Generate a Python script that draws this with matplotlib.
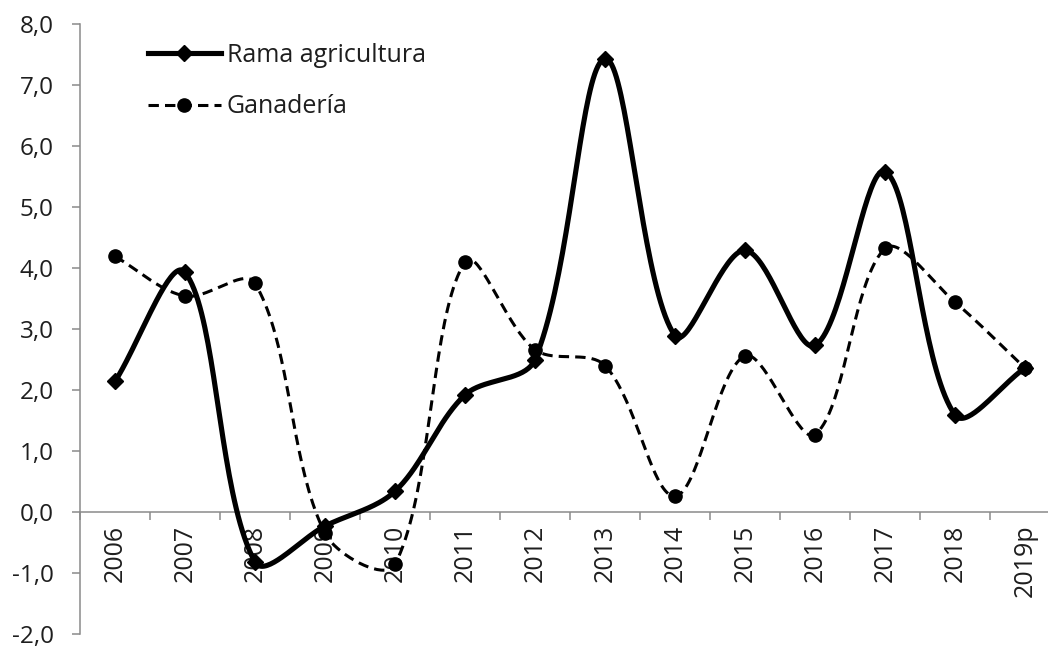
import numpy as np
import matplotlib
matplotlib.use("Agg")
import matplotlib.pyplot as plt
from matplotlib.lines import Line2D
from matplotlib.ticker import FuncFormatter

# data
years = ['2006', '2007', '2008', '2009', '2010', '2011', '2012',
         '2013', '2014', '2015', '2016', '2017', '2018', '2019p']
rama = [2.14, 3.93, -0.82, -0.23, 0.34, 1.92, 2.50,
        7.43, 2.89, 4.29, 2.73, 5.58, 1.59, 2.36]
ganaderia = [4.19, 3.54, 3.75, -0.35, -0.86, 4.10, 2.66,
             2.40, 0.26, 2.56, 1.27, 4.32, 3.44, 2.36]

plt.rcParams['font.family'] = ['Open Sans', 'DejaVu Sans']
TXT = '#1e1e1e'
AXC = '#8a8a8a'
FS = 18

# pixels per category / per unit, used to smooth in screen-like space
SX, SY = 70.0, 61.1


def smooth(y, n=40):
    # Excel-like smoothed line: cubic bezier, arms scaled by segment length
    x = np.arange(len(y), dtype=float)
    P = np.column_stack([x * SX, np.asarray(y, float) * SY])
    m = len(P)
    t = np.linspace(0, 1, n)[1:, None]
    out = [P[:1]]
    for i in range(m - 1):
        p0 = P[max(i - 1, 0)]
        p1 = P[i]
        p2 = P[i + 1]
        p3 = P[min(i + 2, m - 1)]
        d01 = np.linalg.norm(p1 - p0)
        d12 = np.linalg.norm(p2 - p1)
        d23 = np.linalg.norm(p3 - p2)
        c1 = p1 + (p2 - p0) * d12 / (d01 + d12) / 3
        c2 = p2 - (p3 - p1) * d12 / (d12 + d23) / 3
        seg = ((1 - t) ** 3 * p1 + 3 * (1 - t) ** 2 * t * c1
               + 3 * (1 - t) * t ** 2 * c2 + t ** 3 * p2)
        out.append(seg)
    pts = np.vstack(out)
    return pts[:, 0] / SX, pts[:, 1] / SY


fig = plt.figure(figsize=(10.48, 6.48), dpi=100)
ax = fig.add_axes([80 / 1048, 14 / 648, 980 / 1048, 610 / 648])

xi = np.arange(len(years))
gan_dash = (0, (3.4, 2.0))

gx, gy = smooth(ganaderia)
ax.plot(gx, gy, color='black', lw=2.2, linestyle=gan_dash, zorder=3)
ax.plot(xi, ganaderia, 'o', color='black', markersize=9.5, zorder=4)

rx, ry = smooth(rama)
ax.plot(rx, ry, color='black', lw=3.7, solid_capstyle='round', zorder=5)
ax.plot(xi, rama, 'D', color='black', markersize=8.5, zorder=6)

ax.set_xlim(-0.5, len(years) - 0.5)
ax.set_ylim(-2, 8)

# spines
for s in ['top', 'right']:
    ax.spines[s].set_visible(False)
ax.spines['left'].set_color(AXC)
ax.spines['left'].set_linewidth(1.1)
ax.spines['bottom'].set_position(('data', 0))
ax.spines['bottom'].set_color(AXC)
ax.spines['bottom'].set_linewidth(1.1)

# y ticks
ax.set_yticks(np.arange(-2, 9, 1))
ax.yaxis.set_major_formatter(FuncFormatter(lambda v, p: f"{v:.1f}".replace('.', ',')))
ax.tick_params(axis='y', direction='out', length=6, width=1.1, color=AXC,
               labelsize=17.5, labelcolor=TXT, pad=13)

# x ticks: marks between categories, labels at centres
ax.set_xticks(np.arange(-0.5, len(years), 1.0))
ax.set_xticklabels([])
ax.set_xticks(xi, minor=True)
ax.set_xticklabels(years, minor=True, rotation=90, ha='center', va='top')
ax.tick_params(axis='x', which='major', direction='out', length=6, width=1.1, color=AXC)
ax.tick_params(axis='x', which='minor', length=0, labelsize=FS, labelcolor=TXT, pad=9)

handles = [
    Line2D([], [], color='black', lw=3.7, marker='D', markersize=8.5),
    Line2D([], [], color='black', lw=2.2, linestyle=gan_dash, marker='o', markersize=9.5),
]
fig.legend(handles, ['Rama agricultura', 'Ganadería'], loc='upper left',
           bbox_to_anchor=(148 / 1048, 1 - 43 / 648), bbox_transform=fig.transFigure,
           frameon=False, fontsize=FS, handlelength=2.9, handletextpad=0.25,
           labelspacing=1.05, borderpad=0, borderaxespad=0, labelcolor=TXT)

fig.savefig("out.png", dpi=100)
